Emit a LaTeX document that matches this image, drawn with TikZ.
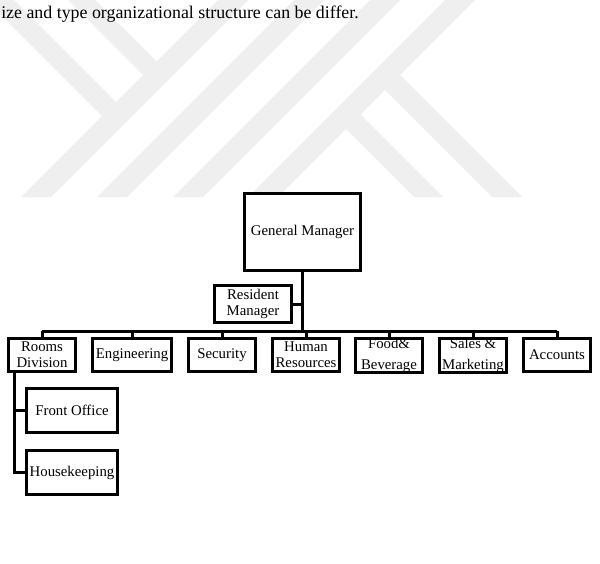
\documentclass[tikz,border=0pt]{standalone}
\usepackage{fontspec}
\setmainfont{Liberation Serif}
\definecolor{wm}{RGB}{239,239,239}
\begin{document}
\begin{tikzpicture}[x=0.75pt,y=-0.75pt,
  box/.style={draw=black, line width=2.25pt, fill=white, inner sep=0pt, outer sep=0pt, align=center,
    font=\fontsize{11.1}{11.8}\selectfont},
  smallbox/.style={box, minimum width=50.25pt, minimum height=24.75pt},
  widebox/.style={box, font=\fontsize{11.1}{15.75}\selectfont},
  conn/.style={line width=2.25pt},
  wmark/.style={fill=wm, draw=none}]
\useasboundingbox (0,0) rectangle (600,564);
\fill[white] (0,0) rectangle (600,564);
% watermark
\begin{scope}
\clip (0,0) rectangle (600,564);
\foreach \a/\b in {218/248, 294/324, 370/400, 445/475}{
  \fill[wmark] (\a-197,197) -- (\b-197,197) -- (\b+5,-5) -- (\a+5,-5) -- cycle;
}
\fill[wmark] (-20,-6) -- (102,116) -- (116,102) -- (9,-5) -- cycle;
\fill[wmark] (63,-5) -- (143,75) -- (156.5,61.5) -- (90,-5) -- cycle;
\fill[wmark] (400,75) -- (522,197) -- (492,197) -- (385,90) -- cycle;
\fill[wmark] (360.5,114.5) -- (443,197) -- (414,197) -- (346,129) -- cycle;
\end{scope}
% intro text
\node[anchor=base west, inner sep=0pt, font=\fontsize{13.4}{16}\selectfont] (intro) at (1,18)
  {ize and type organizational structure can be differ.};
% boxes
\node[box, minimum width=87pt, minimum height=57.75pt] (gm) at (302.5,232) {General Manager};
\node[box, minimum width=57.75pt, minimum height=27.75pt] (rm) at (253,304) {Resident\\Manager};
\node[smallbox] (rooms) at (42,355) {Rooms\\Division};
\node[smallbox, minimum width=59.25pt] (eng) at (132,355) {Engineering};
\node[smallbox] (sec) at (222,355) {Security};
\node[smallbox] (hr) at (306,355) {Human\\Resources};
\node[smallbox, widebox] (fb) at (389,355.5) {Food\&\\Beverage};
\node[smallbox, widebox] (sm) at (473,355.5) {Sales \&\\Marketing};
\node[smallbox] (acc) at (557,355) {Accounts};
\node[box, minimum width=68.25pt, minimum height=33pt] (fo) at (72,410.5) {Front Office};
\node[box, minimum width=68.25pt, minimum height=33pt] (hk) at (72,472.5) {Housekeeping};
% redraw borders over overflowing text
\draw[conn] (fb.south west) rectangle (fb.north east);
\draw[conn] (sm.south west) rectangle (sm.north east);
% connectors
\coordinate (bus) at (302,331);
\coordinate (rtop) at (14,372);
\draw[conn] (gm.south) -- (gm.south |- bus);
\draw[conn] (rm.east) -- (rm.east -| gm.south);
\draw[conn] (rooms.north |- bus) -- (acc.north |- bus);
\foreach \n in {rooms, eng, sec, hr, fb, sm, acc}{
  \draw[conn] (\n.north |- bus) -- (\n.north);
}
\draw[conn] (rtop) -- (rtop |- hk.west) -- (hk.west);
\draw[conn] (rtop |- fo.west) -- (fo.west);
\end{tikzpicture}
\end{document}
